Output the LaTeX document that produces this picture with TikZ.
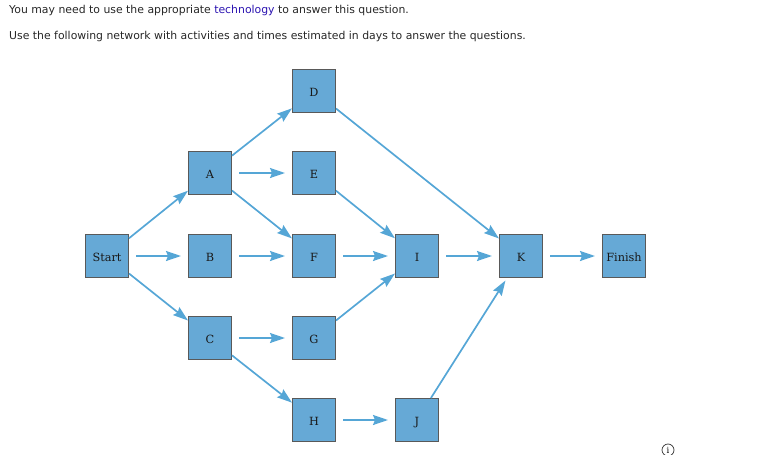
\documentclass[tikz,border=0pt]{standalone}
\usepackage{fontspec}
\setmainfont{DejaVu Sans}
\newfontfamily\boxfont{DejaVu Serif}
\usetikzlibrary{arrows.meta}
\definecolor{boxblue}{HTML}{66A9D6}
\definecolor{arrowblue}{HTML}{55A6D6}
\definecolor{linkblue}{HTML}{2A12B0}
\tikzset{
  activity/.style={draw=black!65,fill=boxblue,line width=1pt,minimum size=43pt,inner sep=0pt,text height=10pt,text depth=0pt,font=\boxfont\fontsize{11.3}{12}\selectfont,text=black!90},
  link/.style={-{Stealth[length=15pt,width=10pt,inset=2pt]},arrowblue,line width=1.7pt},
  flat/.style={link,shorten <=7pt,shorten >=7pt},
  prompt/.style={anchor=west,inner sep=0pt,font=\fontsize{10.87}{12}\selectfont,text=black!85}
}
\begin{document}
\begin{tikzpicture}[x=1pt,y=-1pt]
      \useasboundingbox (0,0) rectangle (772,455);
      \node[prompt] (line1) at (9,10.5) {You may need to use the appropriate \textcolor{linkblue}{technology} to answer this question.};
      \node[prompt] (line2) at (9,36.5) {Use the following network with activities and times estimated in days to answer the questions.};

      \node[activity] (start) at (107,256) {Start};
      \node[activity] (A) at (210,173) {A};
      \node[activity] (B) at (210,256) {B};
      \node[activity] (C) at (210,338) {C};
      \node[activity] (D) at (314,91) {D};
      \node[activity] (E) at (314,173) {E};
      \node[activity] (F) at (314,256) {F};
      \node[activity] (G) at (314,338) {G};
      \node[activity] (H) at (314,420) {H};
      \node[activity] (I) at (417,256) {I};
      \node[activity] (J) at (417,420) {J};
      \node[activity] (K) at (521,256) {K};
      \node[activity] (finish) at (624,256) {Finish};

      \draw[link] (start) -- (A);
      \draw[flat] (start) -- (B);
      \draw[link] (start) -- (C);
      \draw[link] (A) -- (D);
      \draw[flat] (A) -- (E);
      \draw[link] (A) -- (F);
      \draw[flat] (B) -- (F);
      \draw[flat] (C) -- (G);
      \draw[link] (C) -- (H);
      \draw[link] (D) -- (K);
      \draw[link] (E) -- (I);
      \draw[flat] (F) -- (I);
      \draw[link] (G) -- (I);
      \draw[flat] (H) -- (J);
      \draw[flat] (I) -- (K);
      \draw[link,shorten >=3pt] (J) -- (K);
      \draw[flat] (K) -- (finish);

      \node[draw=black!80,circle,line width=0.7pt,minimum size=12pt,inner sep=0pt,font=\boxfont\fontsize{8.5}{8.5}\selectfont] (info) at (668,450) {i};
\end{tikzpicture}
\end{document}
